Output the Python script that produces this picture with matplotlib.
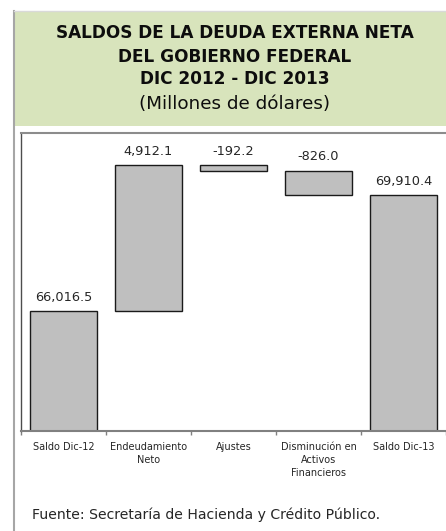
import numpy as np
import matplotlib.pyplot as plt
from matplotlib.patches import Rectangle
from matplotlib.lines import Line2D

plt.rcParams['font.family'] = ['DejaVu Sans']

# saldos y movimientos (millones de dolares)
categories = ["Saldo Dic-12", "Endeudamiento\nNeto", "Ajustes",
              "Disminución en\nActivos\nFinancieros", "Saldo Dic-13"]
values = [66016.5, 4912.1, -192.2, -826.0, 69910.4]
is_total = [True, False, False, False, True]

title_lines = ["SALDOS DE LA DEUDA EXTERNA NETA", "DEL GOBIERNO FEDERAL", "DIC 2012 - DIC 2013"]

# bases de la cascada
bottoms = []
heights = []
running = 0.0
for v, tot in zip(values, is_total):
    if tot:
        bottoms.append(0.0)
        heights.append(v)
        running = v
    else:
        bottoms.append(running if v >= 0 else running + v)
        heights.append(abs(v))
        running += v
bottoms = np.array(bottoms)
heights = np.array(heights)

W, H = 446, 531
fig = plt.figure(figsize=(W / 100, H / 100), dpi=100)

# recuadro del titulo y marco izquierdo
fig.patches.append(Rectangle((14 / W, 1 - 126 / H), 1 - 14 / W, (126 - 11) / H,
                             transform=fig.transFigure, facecolor="#D8E4BC",
                             edgecolor="none", zorder=0))
fig.lines.append(Line2D([13.5 / W, 13.5 / W], [0, 1 - 10.5 / H],
                        transform=fig.transFigure, color="#A6A6A6", lw=1.5))
fig.lines.append(Line2D([13.5 / W, 1], [1 - 10.5 / H, 1 - 10.5 / H],
                        transform=fig.transFigure, color="#D9D9D9", lw=1.0))

for line, ypx in zip(title_lines, [33.5, 56.5, 79.5]):
    fig.text(235 / W, 1 - ypx / H, line, ha="center", va="center",
             fontsize=12.2, fontweight="bold", color="#0d0d0d")
fig.text(235 / W, 1 - 104 / H, "(Millones de dólares)", ha="center", va="center",
         fontsize=13.2, color="#0d0d0d")

ax = fig.add_axes([21 / W, 1 - 431 / H, (W - 21) / W, (431 - 133) / H])
x = np.arange(len(categories))
ax.bar(x, heights, bottom=bottoms, width=0.78, color="#BFBFBF",
       edgecolor="#1a1a1a", linewidth=1.0, zorder=2)

for xi, v, b, h in zip(x, values, bottoms, heights):
    ax.annotate("{:,.1f}".format(v), (xi, b + h), xytext=(0, 10),
                textcoords="offset points", ha="center", va="center",
                fontsize=9.3, color="#262626")

ax.set_xlim(-0.5, len(categories) - 0.5)
ax.set_ylim(62000, 72000)
ax.set_yticks([])
ax.set_xticks(x)
ax.set_xticklabels(categories, fontsize=7, linespacing=1.35, color="#262626")
ax.set_xticks(np.arange(len(categories) + 1) - 0.5, minor=True)
ax.tick_params(axis="x", which="major", length=0, pad=8)
ax.tick_params(axis="x", which="minor", length=3, color="#808080", width=1.0, direction="out")

ax.spines["right"].set_visible(False)
ax.spines["top"].set_color("#8C8C8C")
ax.spines["top"].set_linewidth(1.5)
ax.spines["left"].set_color("#4D4D4D")
ax.spines["left"].set_linewidth(1.0)
ax.spines["bottom"].set_color("#808080")
ax.spines["bottom"].set_linewidth(1.5)

fig.text(32 / W, 1 - 515 / H, "Fuente: Secretaría de Hacienda y Crédito Público.",
         ha="left", va="center", fontsize=10.1, color="#262626")

fig.savefig("out.png", dpi=100)
